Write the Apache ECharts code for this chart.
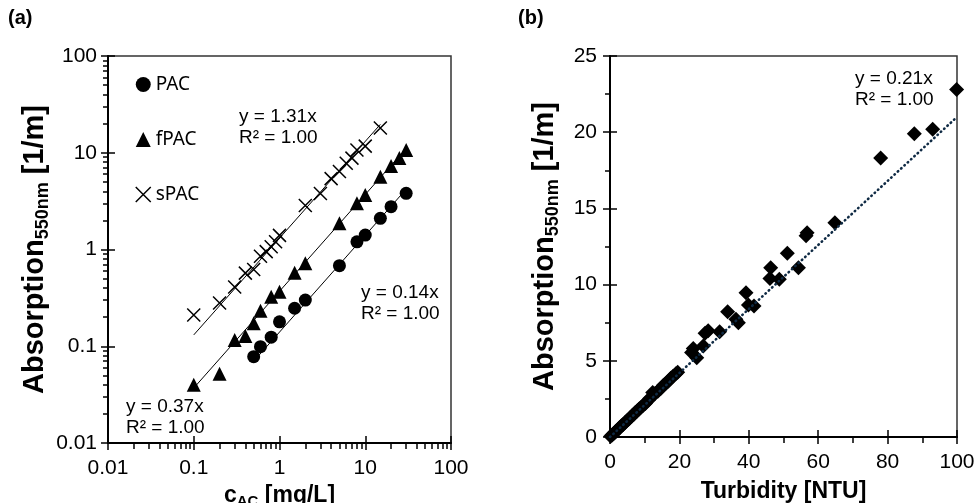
<!DOCTYPE html>
<html>
<head>
<meta charset="utf-8">
<script src="https://cdn.jsdelivr.net/npm/echarts@6/dist/echarts.min.js"></script>
<style>html,body{margin:0;padding:0;background:#fff;}#c{width:976px;height:503px;}</style>
</head>
<body>
<div id="c"></div>
<script>
// ---------- Panel (a) data ----------
const pacX  = [0.5, 0.6, 0.8, 1, 1.5, 2, 5, 8, 10, 15, 20, 30];
const pacY  = [0.078, 0.099, 0.124, 0.179, 0.247, 0.30, 0.68, 1.20, 1.41, 2.10, 2.77, 3.81];
const fpacX = [0.1, 0.2, 0.3, 0.4, 0.5, 0.6, 0.8, 1, 1.5, 2, 5, 8, 10, 15, 20, 25, 30];
const fpacY = [0.040, 0.052, 0.116, 0.128, 0.173, 0.233, 0.325, 0.366, 0.575, 0.72, 1.87, 3.0, 3.66, 5.65, 7.3, 8.8, 10.7];
const spacX = [0.1, 0.2, 0.3, 0.4, 0.5, 0.6, 0.7, 0.8, 0.9, 1, 2, 3, 4, 5, 6, 7, 8, 10, 15];
const spacY = [0.21, 0.28, 0.41, 0.57, 0.62, 0.85, 0.95, 1.07, 1.2, 1.4, 2.85, 3.8, 5.4, 6.4, 7.8, 8.8, 10.7, 11.7, 18];
// fitted lines (endpoints)
const pacFitX  = [0.5, 30];   const pacFitY  = [0.07, 4.2];
const fpacFitX = [0.1, 30];   const fpacFitY = [0.037, 11.1];
const spacFitX = [0.1, 15];   const spacFitY = [0.131, 19.65];
const logTickLabels = ['0.01', '0.1', '1', '10', '100'];

// ---------- Panel (b) data ----------
const turbX = [0.2, 0.6, 1.0, 1.4, 1.8, 2.3, 2.8, 3.3, 3.8, 4.3, 4.8, 5.3, 5.8, 6.3, 6.8, 7.3, 7.8, 8.3, 8.8, 9.5,
               10.2, 11.0, 11.5, 12.3, 13.0, 13.8, 14.6, 15.4, 16.0, 16.8, 17.5, 18.2, 19.0, 19.5,
               23.5, 24.0, 25.0, 26.9, 27.4, 28.3, 31.6, 33.9, 36.3, 37.0, 39.2, 39.9, 41.5,
               46.3, 46.1, 48.8, 51.1, 54.3, 56.5, 56.8, 64.8, 78.0, 87.7, 93.0, 99.9];
const turbY = [0.05, 0.13, 0.22, 0.31, 0.40, 0.50, 0.62, 0.73, 0.82, 0.94, 1.05, 1.15, 1.27, 1.38, 1.48, 1.60, 1.70, 1.82, 1.92, 2.06,
               2.20, 2.40, 2.55, 2.92, 2.85, 3.00, 3.18, 3.40, 3.50, 3.65, 3.85, 3.98, 4.15, 4.25,
               5.55, 5.80, 5.20, 5.97, 6.80, 6.97, 6.90, 8.22, 7.72, 7.50, 9.47, 8.66, 8.60,
               11.10, 10.40, 10.35, 12.05, 11.10, 13.20, 13.40, 14.06, 18.30, 19.90, 20.20, 22.80];
const turbFitX = [0, 100]; const turbFitY = [0, 21];

const zip = (a, b) => a.map((v, i) => [v, b[i]]);
const FONT = 'Liberation Sans, Arial, sans-serif';
const crossPath = 'path://M0,0L10,10M10,0L0,10';

const yName = '{b|Absorption}{s|550nm}{b| [1/m]}';
const yNameRich = {
  b: {fontSize: 29, fontWeight: 'bold', fontFamily: FONT, color: '#000', lineHeight: 34},
  s: {fontSize: 18, fontWeight: 'bold', fontFamily: FONT, color: '#000', lineHeight: 17, verticalAlign: 'bottom'}
};
const axisLineStyle = {lineStyle: {color: '#000', width: 2}};
const tickStyle = {color: '#000', width: 1.5};
const labStyle = {fontSize: 21, color: '#000', fontFamily: FONT};

// main axis: line, labels, outside half of major ticks, minor ticks
function mainAxis(o) {
  return Object.assign({
    axisLine: axisLineStyle,
    axisTick: {show: true, inside: false, length: 7, lineStyle: tickStyle},
    splitLine: {show: false}
  }, o);
}
// twin axis: only the inside half of the major ticks (so majors cross the axis line)
function twinAxis(o) {
  return Object.assign({
    axisLine: {show: false}, axisLabel: {show: false}, splitLine: {show: false},
    axisTick: {show: true, inside: true, length: 7, lineStyle: tickStyle}
  }, o);
}

const option = {
  animation: false,
  backgroundColor: '#fff',
  grid: [
    {left: 108, top: 56, width: 343, height: 387, show: true, borderColor: '#333', borderWidth: 1.5,
     backgroundColor: 'transparent', outerBoundsMode: 'none', containLabel: false},
    {left: 610, top: 56, width: 347, height: 381, show: true, borderColor: '#333', borderWidth: 1.5,
     backgroundColor: 'transparent', outerBoundsMode: 'none', containLabel: false}
  ],
  xAxis: [
    mainAxis({gridIndex: 0, type: 'log', logBase: 10, min: 0.01, max: 100, position: 'bottom',
     minorTick: {show: true, splitNumber: 9, length: 6, lineStyle: tickStyle},
     axisLabel: Object.assign({margin: 15, formatter: (v) => logTickLabels[Math.round(Math.log10(v)) + 2]}, labStyle),
     name: '{b|c}{s|AC}{b| [mg/L]}', nameLocation: 'middle', nameGap: 34,
     nameTextStyle: {rich: {
       b: {fontSize: 23, fontWeight: 'bold', fontFamily: FONT, color: '#000', lineHeight: 28},
       s: {fontSize: 15, fontWeight: 'bold', fontFamily: FONT, color: '#000', lineHeight: 14, verticalAlign: 'bottom'}
     }}}),
    mainAxis({gridIndex: 1, type: 'value', min: 0, max: 100, interval: 20, position: 'bottom',
     minorTick: {show: true, splitNumber: 2, length: 6, lineStyle: tickStyle},
     axisLabel: Object.assign({margin: 15}, labStyle),
     name: 'Turbidity [NTU]', nameLocation: 'middle', nameGap: 37,
     nameTextStyle: {fontSize: 23, fontWeight: 'bold', fontFamily: FONT, color: '#000', lineHeight: 28}}),
    twinAxis({gridIndex: 0, type: 'log', logBase: 10, min: 0.01, max: 100, position: 'bottom', offset: 0}),
    twinAxis({gridIndex: 1, type: 'value', min: 0, max: 100, interval: 20, position: 'bottom', offset: 0})
  ],
  yAxis: [
    mainAxis({gridIndex: 0, type: 'log', logBase: 10, min: 0.01, max: 100, position: 'left',
     minorTick: {show: true, splitNumber: 9, length: 5, lineStyle: tickStyle},
     axisLabel: Object.assign({margin: 11, formatter: (v) => logTickLabels[Math.round(Math.log10(v)) + 2]}, labStyle),
     name: yName, nameLocation: 'middle', nameGap: 46, nameRotate: 90, nameTextStyle: {rich: yNameRich}}),
    mainAxis({gridIndex: 1, type: 'value', min: 0, max: 25, interval: 5, position: 'left',
     minorTick: {show: true, splitNumber: 2, length: 5, lineStyle: tickStyle},
     axisLabel: Object.assign({margin: 13}, labStyle),
     name: yName, nameLocation: 'middle', nameGap: 48, nameRotate: 90, nameTextStyle: {rich: yNameRich}}),
    twinAxis({gridIndex: 0, type: 'log', logBase: 10, min: 0.01, max: 100, position: 'left', offset: 0}),
    twinAxis({gridIndex: 1, type: 'value', min: 0, max: 25, interval: 5, position: 'left', offset: 0})
  ],
  legend: {
    orient: 'vertical', left: 130, top: 70, itemWidth: 15, itemHeight: 15, itemGap: 36,
    textStyle: {fontFamily: 'Noto Sans', fontSize: 19, color: '#000'},
    data: [
      {name: 'PAC', icon: 'circle'},
      {name: 'fPAC', icon: 'triangle'},
      {name: 'sPAC', icon: crossPath, itemStyle: {color: 'rgba(0,0,0,0)', borderColor: '#000', borderWidth: 1.5}}
    ],
    selectedMode: false
  },
  series: [
    {type: 'line', xAxisIndex: 0, yAxisIndex: 0, data: zip(pacFitX, pacFitY), symbol: 'none', lineStyle: {color: '#000', width: 1}, silent: true},
    {type: 'line', xAxisIndex: 0, yAxisIndex: 0, data: zip(fpacFitX, fpacFitY), symbol: 'none', lineStyle: {color: '#000', width: 1}, silent: true},
    {type: 'line', xAxisIndex: 0, yAxisIndex: 0, data: zip(spacFitX, spacFitY), symbol: 'none', lineStyle: {color: '#000', width: 1}, silent: true},
    {name: 'PAC', type: 'scatter', xAxisIndex: 0, yAxisIndex: 0, data: zip(pacX, pacY), symbol: 'circle', symbolSize: 13, itemStyle: {color: '#000', opacity: 1}},
    {name: 'fPAC', type: 'scatter', xAxisIndex: 0, yAxisIndex: 0, data: zip(fpacX, fpacY), symbol: 'triangle', symbolSize: 14, itemStyle: {color: '#000', opacity: 1}},
    {name: 'sPAC', type: 'scatter', xAxisIndex: 0, yAxisIndex: 0, data: zip(spacX, spacY), symbol: crossPath, symbolSize: 13,
     itemStyle: {color: 'rgba(0,0,0,0)', borderColor: '#000', borderWidth: 1.5, opacity: 1}},
    {type: 'line', xAxisIndex: 1, yAxisIndex: 1, data: zip(turbFitX, turbFitY), symbol: 'none',
     lineStyle: {color: '#0f2a44', width: 2.6, type: [0.5, 4], cap: 'round'}, silent: true},
    {type: 'scatter', xAxisIndex: 1, yAxisIndex: 1, data: zip(turbX, turbY), symbol: 'diamond', symbolSize: 15, itemStyle: {color: '#000', opacity: 1}}
  ],
  graphic: [
    {type: 'text', left: 8, top: 8, style: {text: '(a)', font: 'bold 20px ' + FONT, fill: '#000'}},
    {type: 'text', left: 518, top: 8, style: {text: '(b)', font: 'bold 20px ' + FONT, fill: '#000'}},
    {type: 'text', left: 239, top: 106, style: {text: 'y = 1.31x\nR² = 1.00', font: '19px ' + FONT, fill: '#000', lineHeight: 21}},
    {type: 'text', left: 361, top: 282, style: {text: 'y = 0.14x\nR² = 1.00', font: '19px ' + FONT, fill: '#000', lineHeight: 21}},
    {type: 'text', left: 126, top: 396, style: {text: 'y = 0.37x\nR² = 1.00', font: '19px ' + FONT, fill: '#000', lineHeight: 21}},
    {type: 'text', left: 855, top: 68, style: {text: 'y = 0.21x\nR² = 1.00', font: '19px ' + FONT, fill: '#000', lineHeight: 21}}
  ]
};

const chart = echarts.init(document.getElementById('c'), null, {renderer: 'canvas'});
chart.setOption(option);
</script>
</body>
</html>
